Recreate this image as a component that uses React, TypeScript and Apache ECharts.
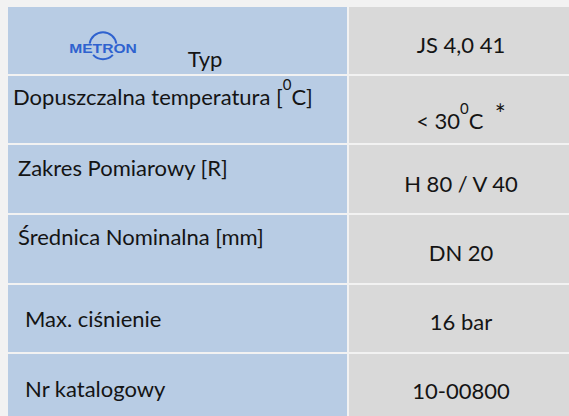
import React, { useEffect, useRef } from "react";
import * as echarts from "echarts";

// ---- table content ----
const rowLabels = [
  "Typ",
  "Dopuszczalna temperatura [{sup|0}C]",
  "Zakres Pomiarowy [R]",
  "Średnica Nominalna [mm]",
  "Max. ciśnienie",
  "Nr katalogowy",
];
const rowValues = [
  "JS 4,0 41",
  "< 30{sup2|0}C  {star|*}",
  "H 80 / V 40",
  "DN 20",
  "16 bar",
  "10-00800",
];
const logoText = "METRON";

// ---- layout ----
const W = 569;
const H = 416;
const X0 = 8;
const XMID = 347;
const GAP = 2;
const rowBounds = [
  [7, 74],
  [76, 143],
  [145, 213],
  [215, 283],
  [285, 352],
  [354, 416],
];
const labelX = [205, 13, 18, 18, 25, 25];
const labelAlign = ["center", "left", "left", "left", "left", "left"];
const labelBase = [67, 105, 176, 245, 327, 397];
const valueX = 461;
const valueBase = [53, 129, 192, 261, 330, 399];

const BG = "#f2f2f2";
const BLUE = "#b8cce4";
const GREY = "#d9d9d9";
const INK = "#141414";
const LOGO = "#2f62cf";
const FONT = "Lato";
const FS = 22;
const MID = 8.5; // baseline offset from 'middle'

const rich = {
  sup: { fontSize: 15, fontFamily: FONT, lineHeight: 15.4, verticalAlign: "top", fill: INK },
  sup2: { fontSize: 15, fontFamily: FONT, lineHeight: 29.4, verticalAlign: "top", fill: INK },
  star: { fontSize: 26, fontFamily: FONT, lineHeight: 15, verticalAlign: "top", fill: INK },
};

export default function App() {
  const ref = useRef<HTMLDivElement>(null);
  useEffect(() => {
    const chart = echarts.init(ref.current!, null, { renderer: "svg" });
    const elements: any[] = [];
    rowBounds.forEach(([top, bottom]) => {
      elements.push({
        type: "rect",
        shape: { x: X0, y: top, width: XMID - X0, height: bottom - top },
        style: { fill: BLUE },
      });
      elements.push({
        type: "rect",
        shape: { x: XMID + GAP, y: top, width: W - XMID - GAP, height: bottom - top },
        style: { fill: GREY },
      });
    });
    rowLabels.forEach((t, i) => {
      elements.push({
        type: "text",
        x: labelX[i],
        y: labelBase[i] - MID,
        style: {
          text: t,
          fontSize: FS,
          fontFamily: FONT,
          fill: INK,
          align: labelAlign[i],
          verticalAlign: "middle",
          lineHeight: 40,
          rich,
        },
      });
    });
    rowValues.forEach((t, i) => {
      elements.push({
        type: "text",
        x: valueX,
        y: valueBase[i] - MID,
        style: {
          text: t,
          fontSize: FS,
          fontFamily: FONT,
          fill: INK,
          align: "center",
          verticalAlign: "middle",
          lineHeight: 40,
          rich,
        },
      });
    });
    // logo
    const cx = 103, cy = 45.7, r = 13.5;
    elements.push({
      type: "arc",
      shape: { cx, cy, r, startAngle: Math.PI + 0.15, endAngle: 2 * Math.PI - 0.15, clockwise: true },
      style: { stroke: LOGO, lineWidth: 2, fill: "none" },
    });
    elements.push({
      type: "arc",
      shape: { cx, cy, r, startAngle: 0.75, endAngle: Math.PI - 0.75, clockwise: true },
      style: { stroke: LOGO, lineWidth: 2, fill: "none" },
    });
    elements.push({
      type: "text",
      x: 103,
      y: 48.5,
      scaleX: 1.2,
      style: {
        text: logoText,
        fontSize: 13,
        fontWeight: "bold",
        fontFamily: "Liberation Sans",
        fill: LOGO,
        align: "center",
        verticalAlign: "middle",
      },
    });
    chart.setOption({ animation: false, backgroundColor: BG, graphic: { elements } });
    return () => chart.dispose();
  }, []);
  return (
    <div
      ref={ref}
      style={{ position: "absolute", left: 0, top: 0, width: W, height: H }}
    />
  );
}
